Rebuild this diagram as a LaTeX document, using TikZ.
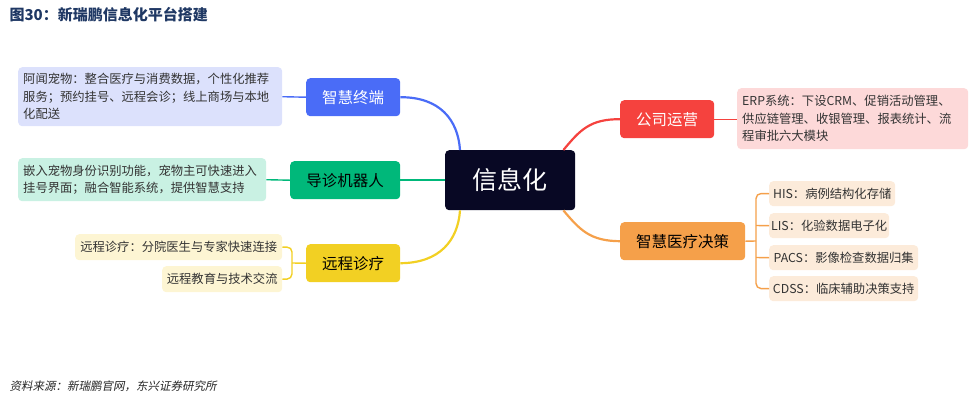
\documentclass[tikz,border=0pt]{standalone}
\usepackage{fontspec}
\setmainfont{Noto Sans CJK SC}
\newfontfamily\slantcjk[FakeSlant=0.2]{Noto Sans CJK SC}
\XeTeXlinebreaklocale "zh"
\XeTeXlinebreakskip=0pt plus 1pt
\begin{document}
\begin{tikzpicture}[x=1pt,y=-1pt,
  box/.style={rounded corners=4pt,inner sep=0pt,anchor=north west},
  leaf/.style={box,font=\fontsize{12.3}{17.5}\selectfont,align=left,text=black!80},
  lt/.style={line width=1.4pt,rounded corners=5pt}]
\definecolor{cBlue}{HTML}{4A6CF7}\definecolor{cBlueL}{HTML}{DCE1FC}
\definecolor{cGreen}{HTML}{00B87A}\definecolor{cGreenL}{HTML}{C9F1E3}
\definecolor{cYel}{HTML}{F2D023}\definecolor{cYelL}{HTML}{FDF5D3}
\definecolor{cRed}{HTML}{F5423E}\definecolor{cRedL}{HTML}{FDD9D9}
\definecolor{cOr}{HTML}{F5A04A}\definecolor{cOrL}{HTML}{FCEBDA}
\definecolor{cTitle}{HTML}{1F3864}
\useasboundingbox (0,0) rectangle (980,400);
\node[anchor=west,font=\fontsize{15}{18}\selectfont\bfseries,text=cTitle] (title) at (6,15) {图30：新瑞鹏信息化平台搭建};
\node[anchor=west,font=\fontsize{11.5}{14}\selectfont\slantcjk,text=black!85] (src) at (6,386) {资料来源：新瑞鹏官网，东兴证券研究所};
% center
\node[box,fill={rgb,255:red,8;green,8;blue,36},minimum width=130pt,minimum height=60pt,text=white,font=\fontsize{25}{30}\selectfont] (c) at (445,150) {信息化};
% branches
\node[box,fill=cBlue,minimum width=94pt,minimum height=38pt,text=white,font=\fontsize{15.5}{18}\selectfont] (b1) at (306,78) {智慧终端};
\node[box,fill=cGreen,minimum width=110pt,minimum height=38pt,font=\fontsize{15.5}{18}\selectfont] (b2) at (290,161) {导诊机器人};
\node[box,fill=cYel,minimum width=94pt,minimum height=38pt,font=\fontsize{15.5}{18}\selectfont] (b3) at (306,244) {远程诊疗};
\node[box,fill=cRed,minimum width=94pt,minimum height=38pt,text=white,font=\fontsize{15.5}{18}\selectfont] (b4) at (620,100) {公司运营};
\node[box,fill=cOr,minimum width=125pt,minimum height=38pt,font=\fontsize{15.5}{18}\selectfont] (b5) at (620,222) {智慧医疗决策};
% leaves
\node[leaf,fill=cBlueL,minimum width=264pt,minimum height=59pt,text width=254pt,inner xsep=5pt] (l1) at (18,67) {阿闻宠物：整合医疗与消费数据，个性化推荐\\服务；预约挂号、远程会诊；线上商场与本地\\化配送};
\node[leaf,fill=cGreenL,minimum width=248pt,minimum height=43pt,text width=238pt,inner xsep=5pt] (l2) at (18,158) {嵌入宠物身份识别功能，宠物主可快速进入\\挂号界面；融合智能系统，提供智慧支持};
\node[leaf,fill=cYelL,minimum width=207pt,minimum height=26pt,align=center] (l3) at (75,234) {远程诊疗：分院医生与专家快速连接};
\node[leaf,fill=cYelL,minimum width=120pt,minimum height=26pt,align=center] (l4) at (162,266) {远程教育与技术交流};
\node[leaf,fill=cRedL,minimum width=231pt,minimum height=61pt,text width=221pt,inner xsep=5pt] (l5) at (737,88) {ERP系统：下设CRM、促销活动管理、\\供应链管理、收银管理、报表统计、流\\程审批六大模块};
\node[leaf,fill=cOrL,minimum width=126pt,minimum height=25pt,align=center] (h1) at (769,181) {HIS：病例结构化存储};
\node[leaf,fill=cOrL,minimum width=120pt,minimum height=25pt,align=center] (h2) at (769,213) {LIS：化验数据电子化};
\node[leaf,fill=cOrL,minimum width=149pt,minimum height=25pt,align=center] (h3) at (769,245) {PACS：影像检查数据归集};
\node[leaf,fill=cOrL,minimum width=149pt,minimum height=25pt,align=center] (h4) at (769,276) {CDSS：临床辅助决策支持};
% main connectors
\draw[cBlue,line width=2.2pt] (b1.east) .. controls (440,97) and (458,120) .. ([xshift=15pt]c.north west);
\draw[cGreen,line width=2.2pt] (b2.east) -- (c.west);
\draw[cYel,line width=2.2pt] (b3.east) .. controls (440,263) and (458,240) .. ([xshift=15pt]c.south west);
\draw[cRed,line width=2.2pt] ([xshift=-12pt]c.north east) .. controls (580,130) and (590,119) .. (b4.west);
\draw[cOr,line width=2.2pt] ([xshift=-12pt]c.south east) .. controls (580,230) and (590,241) .. (b5.west);
% leaf connectors
\draw[cBlue,lt] (l1.east) -- (b1.west);
\draw[cGreen,lt] (l2.east) -- (b2.west);
\draw[cYel,lt] (l3.east) -- (292,247) -- (292,279) -- (l4.east);
\draw[cYel,lt] (292,263) -- (b3.west);
\draw[cRed,lt] (b4.east) -- (l5.west|-b4.east);
\draw[cOr,lt] (b5.east) -- (756,241);
\draw[cOr,lt] (h1.west) -- (756,193.5) -- (756,288.5) -- (h4.west);
\draw[cOr,lt] (756,225.5) -- (h2.west);
\draw[cOr,lt] (756,257.5) -- (h3.west);
\end{tikzpicture}
\end{document}
